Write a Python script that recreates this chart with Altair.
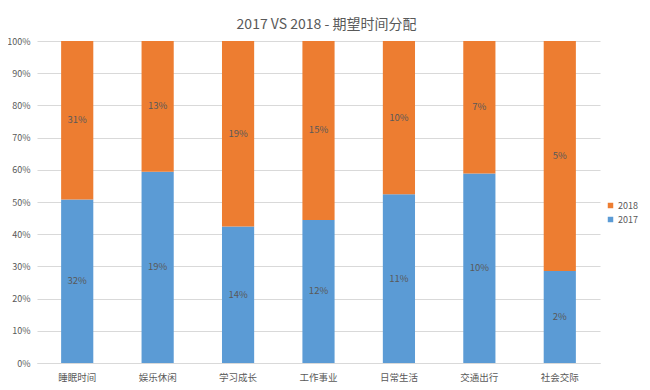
import altair as alt
import pandas as pd

categories = ["睡眠时间", "娱乐休闲", "学习成长", "工作事业", "日常生活", "交通出行", "社会交际"]
v2017 = [32, 19, 14, 12, 11, 10, 2]
v2018 = [31, 13, 19, 15, 10, 7, 5]
series = ["2017", "2018"]
colors = ["#5B9BD5", "#ED7D31"]
yticks = [0, 0.1, 0.2, 0.3, 0.4, 0.5, 0.6, 0.7, 0.8, 0.9, 1.0]

rows = []
for i, c in enumerate(categories):
    rows.append({"cat": c, "series": "2017", "order": 0, "value": v2017[i], "label": f"{v2017[i]}%"})
    rows.append({"cat": c, "series": "2018", "order": 1, "value": v2018[i], "label": f"{v2018[i]}%"})
df = pd.DataFrame(rows)

FONT = "Noto Sans CJK SC"
GRAY = "#595959"

base = alt.Chart(df).transform_stack(
    stack="value", groupby=["cat"], as_=["y0", "y1"], offset="normalize",
    sort=[alt.SortField("order", "ascending")]
).transform_calculate(mid="(datum.y0 + datum.y1) / 2")

x = alt.X("cat:N", sort=categories, title=None,
          scale=alt.Scale(paddingInner=0.6, paddingOuter=0.3),
          axis=alt.Axis(labelAngle=0, labelFont=FONT, labelFontSize=9.5, labelColor=GRAY,
                        ticks=False, domainColor="#D9D9D9", labelPadding=9, grid=False))

yaxis = alt.Axis(format=".0%", values=yticks, domain=False, ticks=False,
                 labelOverlap=False, labelFont=FONT, labelFontSize=9, labelColor=GRAY,
                 labelPadding=7, gridColor="#D9D9D9")

bars = base.mark_bar().encode(
    x=x,
    y=alt.Y("y0:Q", title=None, scale=alt.Scale(domain=[0, 1], nice=False), axis=yaxis),
    y2="y1:Q",
    color=alt.Color("series:N", scale=alt.Scale(domain=["2018", "2017"], range=[colors[1], colors[0]]),
                    legend=alt.Legend(title=None, orient="none", legendX=569, legendY=160,
                                      symbolType="square", symbolSize=30, symbolStrokeWidth=0,
                                      labelOffset=3, labelFont=FONT, labelFontSize=9,
                                      labelColor=GRAY, rowPadding=4)),
)

labels = base.mark_text(font=FONT, fontSize=9.5, color=GRAY).encode(
    x=alt.X("cat:N", sort=categories),
    y=alt.Y("mid:Q", title=None, axis=yaxis),
    text="label:N",
)

chart = (bars + labels).properties(
    width=563, height=322,
    autosize=alt.AutoSizeParams(type="none"),
    padding={"left": 29, "top": 33, "right": 42, "bottom": 19},
    title=alt.TitleParams("2017 VS 2018 - 期望时间分配", font=FONT, fontSize=14, fontWeight="normal",
                          color=GRAY, anchor="middle", offset=5, dx=8),
).configure_view(stroke=None).configure_axisY(labelOverlap=False)

chart.save("out.html", embed_options={"renderer": "svg", "actions": False})
